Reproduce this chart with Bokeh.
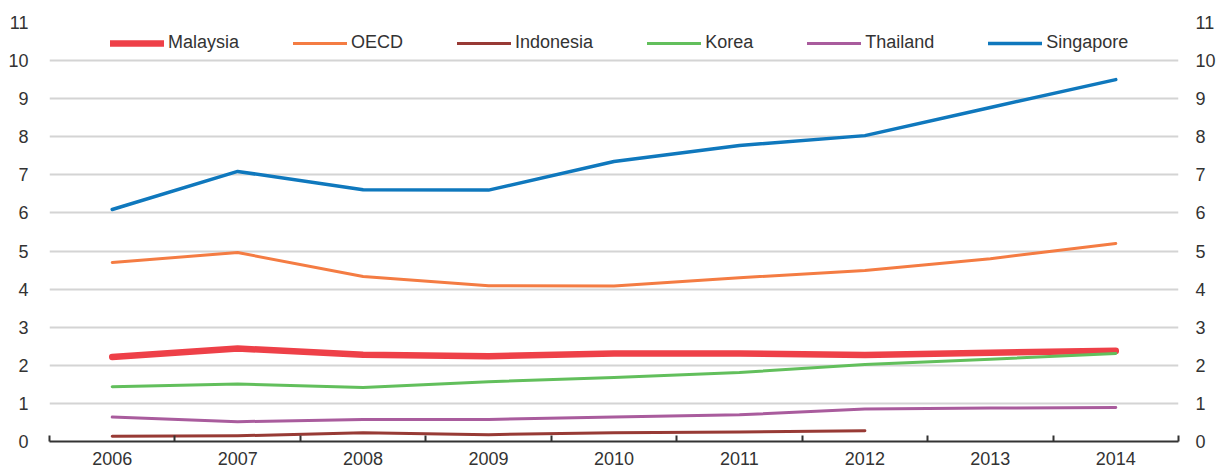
from bokeh.plotting import figure
from bokeh.models import Range1d, LinearAxis, FixedTicker, Legend, LegendItem, Grid
from bokeh.embed import file_html
from bokeh.resources import INLINE

years = [2006, 2007, 2008, 2009, 2010, 2011, 2012, 2013, 2014]
malaysia = [2.22, 2.44, 2.28, 2.24, 2.31, 2.31, 2.27, 2.33, 2.38]
oecd = [4.70, 4.96, 4.33, 4.09, 4.08, 4.30, 4.49, 4.80, 5.20]
indonesia_years = [2006, 2007, 2008, 2009, 2010, 2011, 2012]
indonesia = [0.14, 0.15, 0.23, 0.18, 0.23, 0.25, 0.28]
korea = [1.44, 1.51, 1.42, 1.57, 1.68, 1.81, 2.02, 2.16, 2.31]
thailand = [0.64, 0.52, 0.58, 0.58, 0.64, 0.70, 0.85, 0.88, 0.89]
singapore = [6.09, 7.09, 6.61, 6.60, 7.35, 7.77, 8.03, 8.77, 9.50]
y_ticks = list(range(0, 12))

FONT = "Liberation Sans"
TXT = "#333333"

p = figure(width=1223, height=467, output_backend="svg", toolbar_location=None,
           x_range=Range1d(2005.5, 2014.5), y_range=Range1d(0, 11),
           x_axis_location=None, y_axis_location=None,
           min_border_left=49, min_border_right=45, min_border_top=22, min_border_bottom=26)
p.outline_line_color = None
p.xgrid.visible = False
p.ygrid.visible = False

p.add_layout(Grid(dimension=1, ticker=FixedTicker(ticks=y_ticks[1:]),
                  grid_line_color="#D4D4D4", grid_line_width=1.8))

xaxis = LinearAxis(ticker=FixedTicker(ticks=years, minor_ticks=[y - 0.5 for y in years] + [years[-1] + 0.5]),
                   major_tick_in=0, major_tick_out=0, minor_tick_in=6, minor_tick_out=0,
                   minor_tick_line_color=TXT, minor_tick_line_width=2,
                   axis_line_color=TXT, axis_line_width=2,
                   major_label_text_font_size="18px", major_label_text_color=TXT,
                   major_label_text_font=FONT, major_label_standoff=10)
p.add_layout(xaxis, "below")

for side, stand in (("left", 15), ("right", 11)):
    ax = LinearAxis(ticker=FixedTicker(ticks=y_ticks), axis_line_color=None,
                    major_tick_line_color=None, minor_tick_line_color=None,
                    major_label_text_font_size="18px", major_label_text_color=TXT,
                    major_label_text_font=FONT, major_label_standoff=stand)
    p.add_layout(ax, side)

kw = dict(line_cap="round", line_join="round")
r_sin = p.line(years, singapore, line_color="#0F78BD", line_width=3.5, **kw)
r_oecd = p.line(years, oecd, line_color="#F47C43", line_width=3, **kw)
r_mal = p.line(years, malaysia, line_color="#EE4048", line_width=6.5, **kw)
r_kor = p.line(years, korea, line_color="#62BF5C", line_width=3, **kw)
r_tha = p.line(years, thailand, line_color="#A95C9D", line_width=3, **kw)
r_ind = p.line(indonesia_years, indonesia, line_color="#983A35", line_width=3, **kw)

legend = Legend(items=[LegendItem(label="Malaysia", renderers=[r_mal]),
                       LegendItem(label="OECD", renderers=[r_oecd]),
                       LegendItem(label="Indonesia", renderers=[r_ind]),
                       LegendItem(label="Korea", renderers=[r_kor]),
                       LegendItem(label="Thailand", renderers=[r_tha]),
                       LegendItem(label="Singapore", renderers=[r_sin])],
                orientation="horizontal", location=(61, 388), spacing=54,
                glyph_width=54, label_standoff=4, padding=0, margin=0,
                background_fill_alpha=0, border_line_color=None,
                label_text_font_size="18px", label_text_color=TXT, label_text_font=FONT)
p.add_layout(legend)

open("out.html", "w").write(file_html(p, INLINE))
